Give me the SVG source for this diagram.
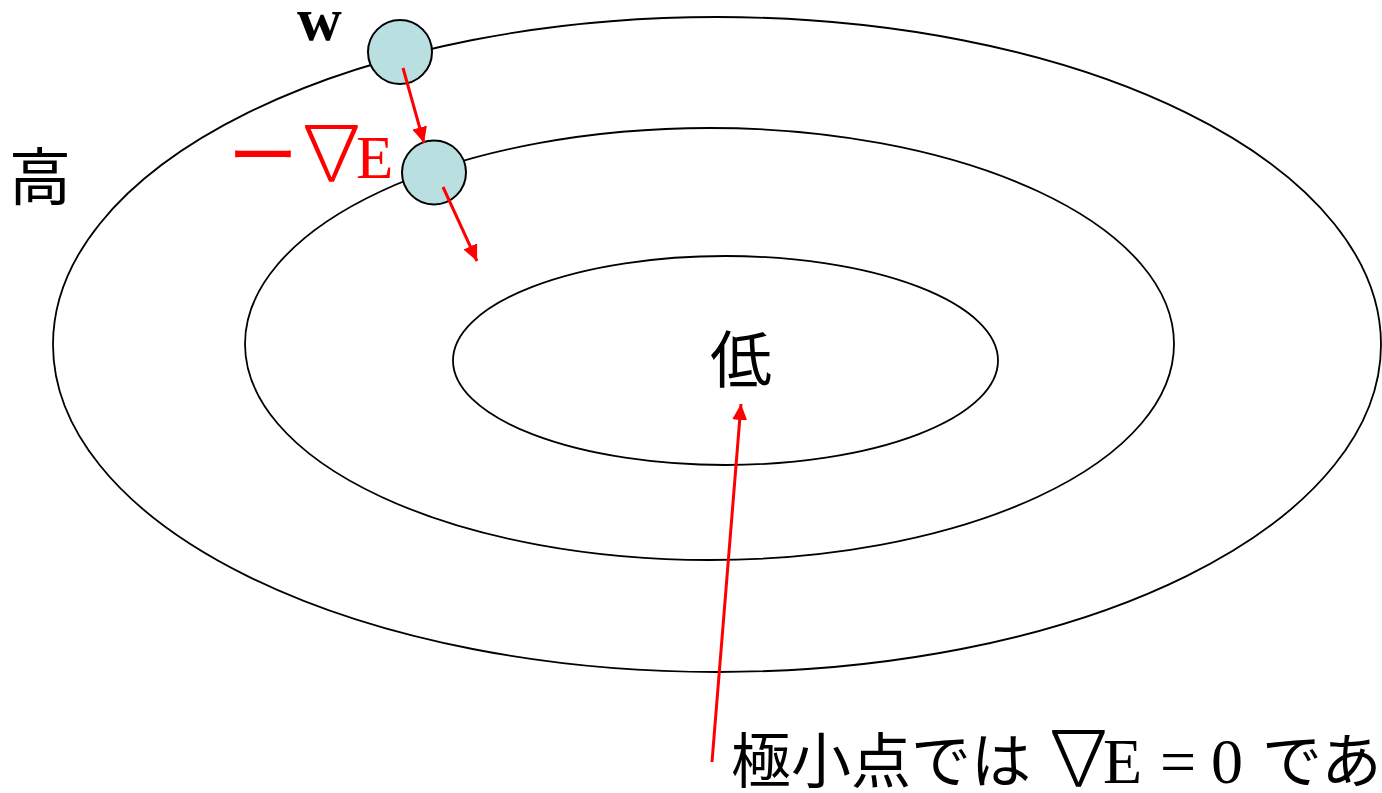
<svg xmlns="http://www.w3.org/2000/svg" width="1382" height="793" viewBox="0 0 1382 793">
<defs>
<style>
.contour{fill:none;stroke:#000;stroke-width:1.8}
.ball{fill:#b9dfe1;stroke:#000;stroke-width:2}
.arrow{stroke:#ff0000;stroke-width:3;fill:none}
.cjk{font-family:"Noto Sans CJK JP","Noto Sans",sans-serif;fill:#000}
.serif{font-family:"Liberation Serif","DejaVu Serif",serif}
.nabla{font-family:"Noto Sans CJK JP","DejaVu Sans",sans-serif;font-weight:300}
</style>
<marker id="ah" markerWidth="16" markerHeight="15" refX="16" refY="7.5" orient="auto" markerUnits="userSpaceOnUse">
<path d="M0,0 L16,7.5 L0,15 z" fill="#ff0000"/>
</marker>
</defs>
<rect width="1382" height="793" fill="#fff"/>
<g id="contours">
<ellipse id="outer" class="contour" cx="717" cy="344.5" rx="664" ry="327.5"/>
<ellipse id="middle" class="contour" cx="709.5" cy="344" rx="464.5" ry="216"/>
<ellipse id="inner" class="contour" cx="725.5" cy="360.5" rx="272.5" ry="104.5"/>
</g>
<g id="ball1"><circle class="ball" cx="400" cy="52" r="32"/></g>
<g id="ball2"><circle class="ball" cx="434" cy="172.5" r="32"/></g>
<g id="connectors">
<line class="arrow" x1="403" y1="68" x2="424" y2="143" marker-end="url(#ah)"/>
<line class="arrow" x1="443" y1="187" x2="477" y2="261" marker-end="url(#ah)"/>
<line class="arrow" x1="712" y1="762" x2="741" y2="404" marker-end="url(#ah)"/>
</g>
<g id="labels">
<text class="serif" x="297" y="40" font-size="62" font-weight="bold" fill="#000">w</text>
<text id="grad" x="228" y="181" fill="#ff0000" font-size="70"><tspan class="cjk" style="fill:#ff0000" font-weight="400">ー</tspan><tspan class="nabla" x="293" y="180" font-size="77">∇</tspan><tspan class="serif" x="356" y="178" font-size="61">E</tspan></text>
<text id="high" class="cjk" x="9" y="200" font-size="62">高</text>
<text id="low" class="cjk" x="710" y="383" font-size="62">低</text>
<text id="note" y="783" font-size="60"><tspan class="cjk" x="731">極小点では</tspan><tspan class="nabla" x="1040" y="785" font-size="77">∇</tspan><tspan class="serif" x="1103" y="783" font-size="64">E</tspan><tspan class="serif" x="1160" font-size="64">=</tspan><tspan class="serif" x="1211" font-size="64">0</tspan><tspan class="cjk" x="1262">であ</tspan></text>
</g>
</svg>
